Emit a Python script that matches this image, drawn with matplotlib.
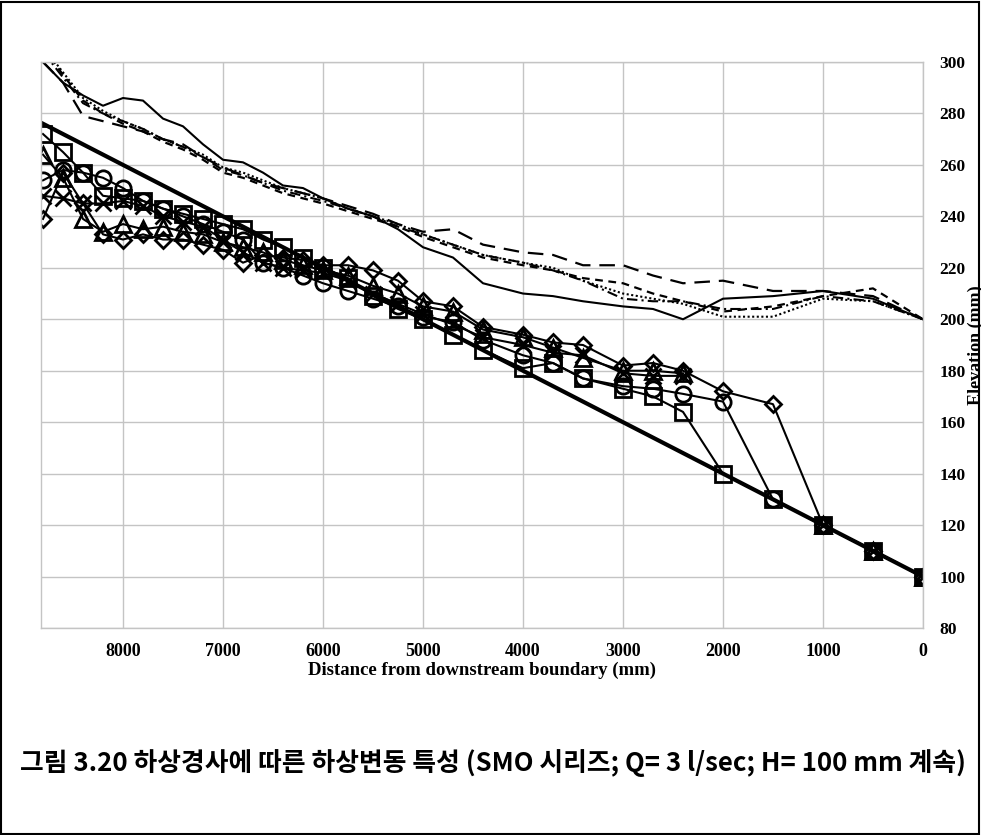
import numpy as np
import matplotlib.pyplot as plt
from matplotlib.patches import Rectangle

nan = np.nan

# 거리 (하류 경계로부터, mm)
dist = [8800, 8600, 8400, 8200, 8000, 7800, 7600, 7400, 7200, 7000, 6800, 6600,
        6400, 6200, 6000, 5750, 5500, 5250, 5000, 4700, 4400, 4000, 3700, 3400,
        3000, 2700, 2400, 2000, 1500, 1000, 500, 0]

# 초기 하상
init_x = [8800, 0]
init_y = [276, 100]

# 하상고 (marker series)
bed_square = [272, 265, 257, 248, 247, 246, 243, 241, 239, 237, 235, 231, 228, 224,
              220, 216, 209, 204, 200, 194, 188, 181, 183, 177, 173, 170, 164, 140,
              130, 120, 110, 100]
bed_circle = [254, 258, 257, 255, 251, 246, 243, 240, 237, 234, 231, 222, 220, 217,
              214, 211, 208, 205, 201, 199, 192, 186, 183, 177, 174, 173, 171, 168,
              130, 120, 110, 100]
bed_triangle = [264, 255, 239, 234, 237, 235, 236, 234, 233, 230, 228, 226, 223, 221,
                219, 217, 213, 210, 205, 203, 196, 193, 189, 185, 180, 180, 179, nan,
                nan, 120, 110, 100]
bed_cross = [248, 247, 245, 245, 246, 244, 240, 238, 236, 231, 226, 222, 220, 219,
             218, 215, 210, 206, 202, 198, 193, 190, 187, 186, 179, 178, 178, nan,
             nan, 120, 110, 100]
bed_diamond = [239, 257, 245, 233, 231, 233, 231, 231, 229, 227, 222, 225, 224, 223,
               221, 221, 219, 215, 207, 205, 197, 194, 191, 190, 182, 183, 180, 172,
               167, 120, 110, 100]

# 수위 (line series)
ws_solid = [300, 292, 287, 283, 286, 285, 278, 275, 268, 262, 261, 257, 252, 251,
            247, 243, 240, 235, 228, 224, 214, 210, 209, 207, 205, 204, 200, 208,
            209, 211, 208, 200]
ws_longdash = [300, 292, 279, 277, 275, 273, 270, 268, 263, 259, 256, 253, 251, 249,
               247, 244, 241, 237, 234, 235, 229, 226, 225, 221, 221, 217, 214, 215,
               211, 211, 209, 200]
ws_dash = [306, 295, 285, 280, 276, 273, 269, 266, 262, 257, 255, 252, 249, 247,
           245, 242, 239, 236, 232, 228, 224, 221, 219, 216, 214, 210, 207, 203,
           205, 209, 212, 200]
ws_dashdot = [304, 294, 284, 280, 277, 274, 270, 267, 263, 258, 256, 253, 250, 248,
              246, 243, 240, 236, 233, 229, 225, 222, 219, 215, 208, 207, 207, 204,
              204, 209, 207, 200]
ws_dot = [306, 296, 286, 281, 277, 274, 270, 267, 264, 259, 257, 254, 251, 249,
          247, 243, 240, 237, 233, 229, 225, 222, 220, 215, 210, 208, 206, 201,
          201, 208, 207, 200]

x_ticks = [8000, 7000, 6000, 5000, 4000, 3000, 2000, 1000, 0]
y_ticks = [80, 100, 120, 140, 160, 180, 200, 220, 240, 260, 280, 300]

caption = "그림 3.20 하상경사에 따른 하상변동 특성 (SMO 시리즈; Q= 3 l/sec; H= 100 mm 계속)"

serif = "Liberation Serif"
grid_c = "#c4c4c4"

fig = plt.figure(figsize=(9.81, 8.35), dpi=100)
ax = fig.add_axes([41 / 981, 1 - 628 / 835, (923 - 41) / 981, (628 - 62) / 835])

# 수위
ax.plot(dist, ws_solid, color="black", lw=1.5)
ax.plot(dist, ws_longdash, color="black", lw=1.6, dashes=(7, 4))
ax.plot(dist, ws_dash, color="black", lw=1.6, dashes=(3.5, 2.5))
ax.plot(dist, ws_dashdot, color="black", lw=1.5, dashes=(5, 2, 1, 2))
ax.plot(dist, ws_dot, color="black", lw=1.5, dashes=(1, 1.2))

# 초기 하상
ax.plot(init_x, init_y, color="black", lw=3.0)

# 하상
mk = dict(color="black", lw=1.5, markersize=11, markerfacecolor="none",
          markeredgecolor="black", markeredgewidth=2.0)
ax.plot(dist, bed_diamond, marker="D", **{**mk, "markersize": 8.5})
ax.plot(dist, bed_cross, marker="x", **mk)
ax.plot(dist, bed_triangle, marker="^", **mk)
ax.plot(dist, bed_circle, marker="o", **mk)
ax.plot(dist, bed_square, marker="s", **mk)

ax.set_xlim(8820, 0)
ax.set_ylim(80, 300)
ax.set_xticks(x_ticks)
ax.set_yticks(y_ticks)
ax.set_xticklabels([str(v) for v in x_ticks], fontfamily=serif, fontweight="bold", fontsize=13)
ax.set_yticklabels([str(v) for v in y_ticks], fontfamily=serif, fontweight="bold", fontsize=12.5)
ax.yaxis.tick_right()
ax.tick_params(axis="both", length=0)
ax.tick_params(axis="x", pad=11)
ax.tick_params(axis="y", pad=12)
ax.grid(True, color=grid_c, lw=1.0)
ax.set_axisbelow(True)
for sp in ax.spines.values():
    sp.set_color(grid_c)
    sp.set_linewidth(1.0)

ax.set_xlabel("Distance from downstream boundary (mm)", fontfamily=serif,
              fontweight="bold", fontsize=13.5, labelpad=1)
# 원본처럼 오른쪽 끝에 걸쳐 있음
fig.text(968 / 981, 1 - 345 / 835, "Elevation (mm)", rotation=90, ha="left",
         va="center", fontfamily=serif, fontweight="bold", fontsize=13)

fig.text(20 / 981, 1 - 763 / 835, caption, ha="left", va="center",
         fontfamily=["Noto Sans CJK KR", "DejaVu Sans"], fontweight="bold", fontsize=18.55)

# 그림 테두리
fig.patches.append(Rectangle((0.001, 0.001), 0.997, 0.997, transform=fig.transFigure,
                             fill=False, edgecolor="black", lw=1.5))

fig.savefig("out.png", dpi=100)
